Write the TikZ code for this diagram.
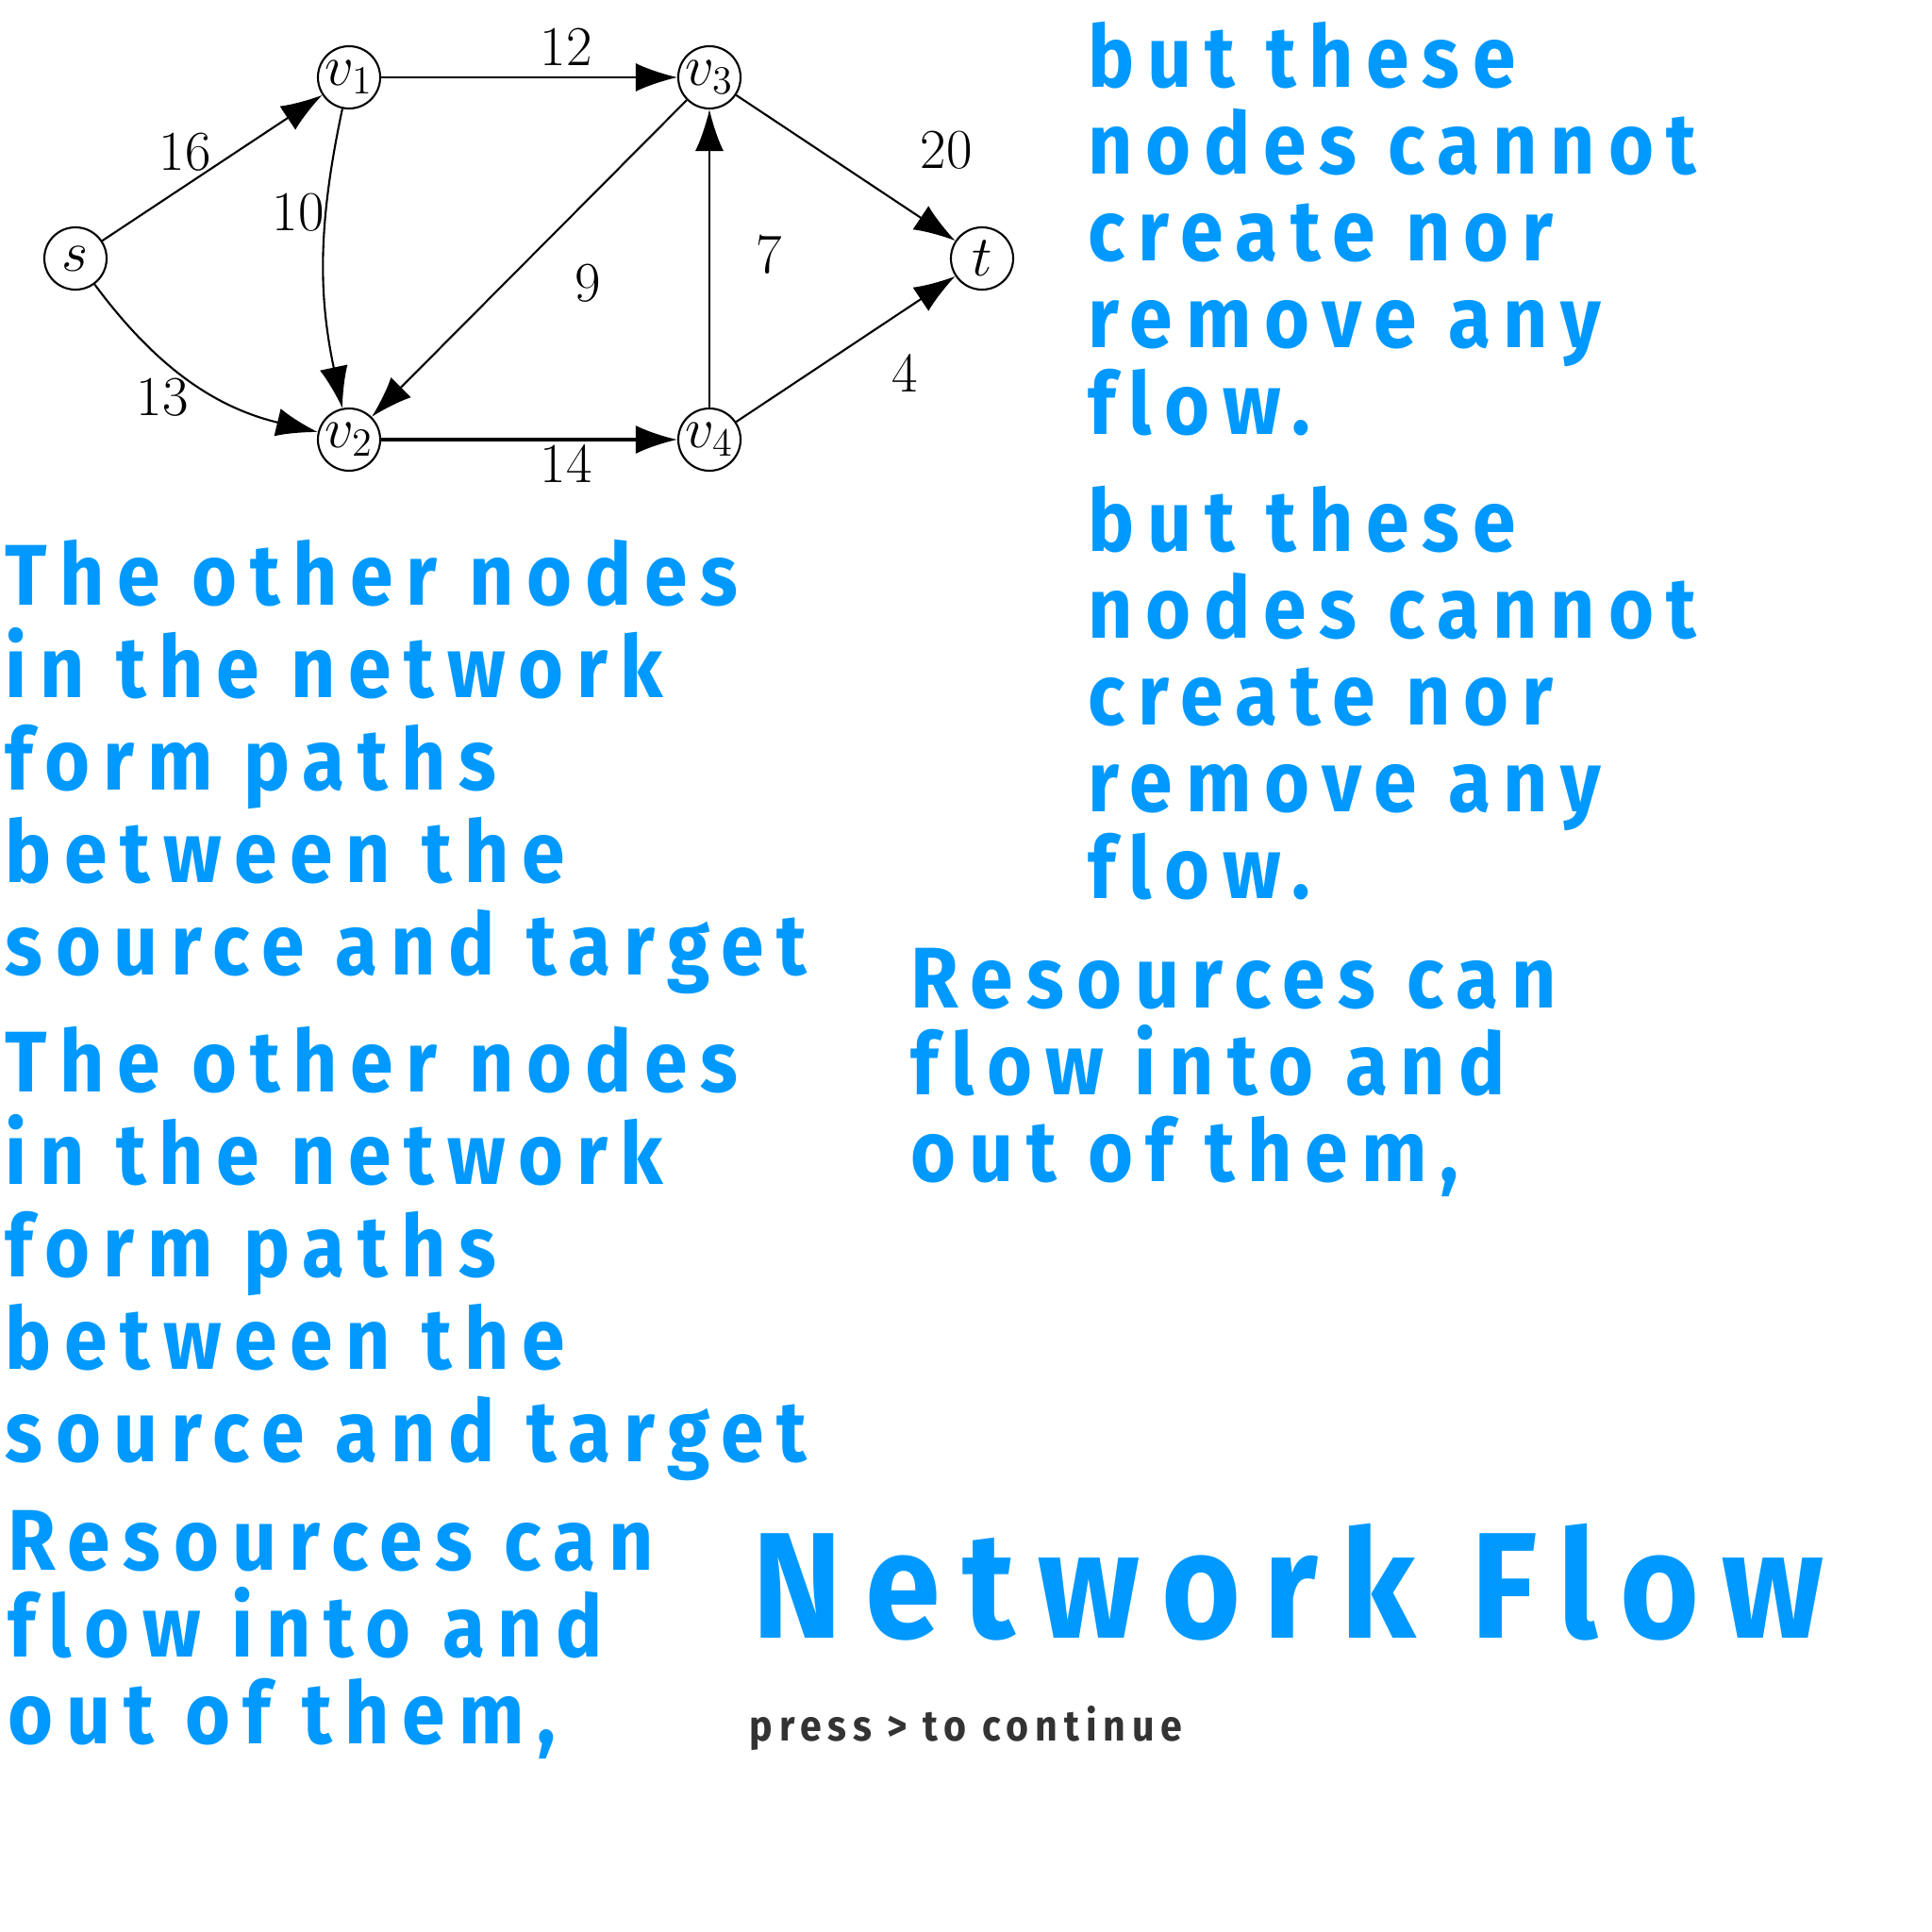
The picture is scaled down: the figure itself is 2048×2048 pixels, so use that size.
\documentclass[tikz,border=0pt]{standalone}
\usepackage{fontspec}
\newfontfamily\slidefont{Fira Sans}[FakeStretch=0.9,LetterSpace=15,Ligatures=NoCommon]
\usetikzlibrary{positioning,arrows.meta}
\definecolor{slideblue}{HTML}{0099FF}
\definecolor{hintgray}{HTML}{333333}

\begin{document}
\begin{tikzpicture}[
	x=0.1mm,y=0.1mm,
	vertex/.style={
		draw=black,
		circle,
		line width=0.6pt,
		minimum size=6.6mm,
		inner sep=0pt,
		font=\fontsize{17}{19}\selectfont
	},
	flow/.style={
		draw=black,
		line width=0.6pt,
		-{Latex[length=4.4mm,width=3mm]}
	},
	weight/.style={
		inner sep=0pt,
		font=\fontsize{17}{19}\selectfont
	},
	blurb/.style={
		anchor=north west,
		inner sep=0pt,
		align=left,
		text=slideblue,
		font=\slidefont\bfseries\fontsize{26}{26.2}\selectfont
	},
	wideblurb/.style={
		blurb,
		font=\slidefont\bfseries\fontsize{26}{27.9}\selectfont
	}
	]
	
	\useasboundingbox[fill=white] (0,0) rectangle (2048,-2048);
	
	% flow network
	\node[vertex] (s) at (80,-274) {$s$};
	\node[vertex] (v1) at (370,-82) {$v_1$};
	\node[vertex] (v3) at (752,-82) {$v_3$};
	\node[vertex] (t) at (1041,-274) {$t$};
	\node[vertex] (v2) at (370,-466) {$v_2$};
	\node[vertex] (v4) at (752,-466) {$v_4$};
	
	\draw[flow] (s) -- (v1);
	\draw[flow] (s) to[bend right=20] (v2);
	\draw[flow] (v1) to[bend right=12] (v2);
	\draw[flow] (v1) -- (v3);
	\draw[flow] (v3) -- (v2);
	\draw[flow] (v4) -- (v3);
	\draw[flow] (v3) -- (t);
	\draw[flow] (v4) -- (t);
	\draw[flow,line width=0.9pt] (v2) -- (v4);
	
	\node[weight] (w16) at (196,-161) {16};
	\node[weight] (w13) at (172,-421) {13};
	\node[weight] (w10) at (316,-225) {10};
	\node[weight] (w12) at (600,-50) {12};
	\node[weight] (w9) at (623,-300) {9};
	\node[weight] (w7) at (815,-270) {7};
	\node[weight] (w20) at (1003,-159) {20};
	\node[weight] (w4) at (959,-396) {4};
	\node[weight] (w14) at (600,-492) {14};
	
	% slide text
	\node[wideblurb] (others) at (5,-571)
	{The other nodes\\in the network\\form paths\\between the\\source and target};
	\node[wideblurb] (othersagain) at (5,-1087)
	{The other nodes\\in the network\\form paths\\between the\\source and target};
	\node[blurb] (resources) at (8,-1600)
	{Resources can\\flow into and\\out of them,};
	\node[blurb] (butthese) at (1153,-22)
	{but these\\nodes cannot\\create nor\\remove any\\flow.};
	\node[blurb] (buttheseagain) at (1153,-514)
	{but these\\nodes cannot\\create nor\\remove any\\flow.};
	\node[blurb] (resourcesright) at (965,-1004)
	{Resources can\\flow into and\\out of them,};
	
	\node[anchor=north west, inner sep=0pt, text=slideblue,
		font=\slidefont\bfseries\fontsize{45.5}{48}\selectfont] (title) at (797,-1614)
	{Network Flow};
	\node[anchor=north west, inner sep=0pt, text=hintgray,
		font=\slidefont\bfseries\fontsize{13}{15}\selectfont] (press) at (794,-1808)
	{press > to continue};
\end{tikzpicture}
\end{document}
